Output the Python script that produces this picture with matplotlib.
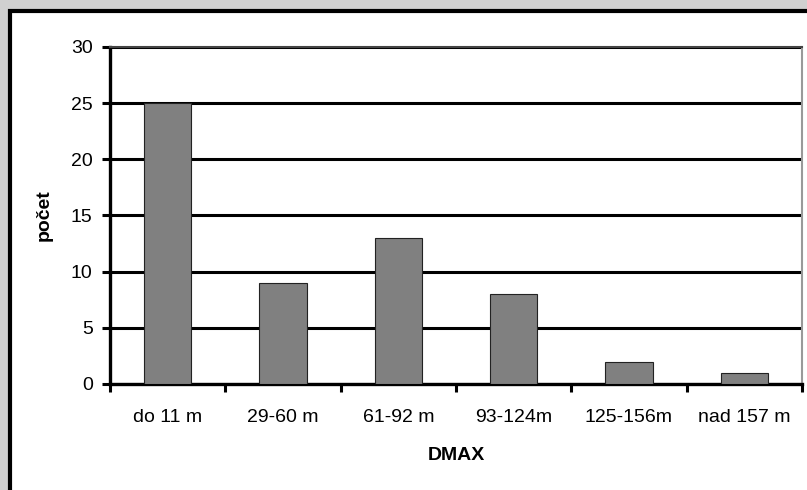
import matplotlib.pyplot as plt
from matplotlib.patches import Rectangle

plt.rcParams['font.family'] = ['Liberation Sans', 'DejaVu Sans']

categories = ['do 11 m', '29-60 m', '61-92 m', '93-124m', '125-156m', 'nad 157 m']
counts = [25, 9, 13, 8, 2, 1]
yticks = [0, 5, 10, 15, 20, 25, 30]

fig = plt.figure(figsize=(8.07, 4.90), dpi=100)
fig.patch.set_facecolor('#d0d0d0')

# white panel with heavy black frame
fig.add_artist(Rectangle((9.5 / 807, -0.1), 1.2, 1 - 11.5 / 490 + 0.1,
                         transform=fig.transFigure, facecolor='white',
                         edgecolor='black', linewidth=3, zorder=0))

ax = fig.add_axes([110 / 807, 1 - 384 / 490, 692 / 807, 337 / 490])
ax.set_facecolor('white')

x = list(range(len(categories)))
ax.bar(x, counts, width=0.41, color='#808080', edgecolor='#222222',
       linewidth=0.8, zorder=3)

ax.set_xlim(-0.5, len(categories) - 0.5)
ax.set_ylim(0, 30)

ax.set_yticks(yticks)
ax.set_yticklabels([str(v) for v in yticks], fontsize=14)
ax.yaxis.grid(True, color='black', linewidth=2.2, zorder=1)
ax.set_axisbelow(True)

# category labels centered, ticks on the boundaries
ax.set_xticks(x)
ax.set_xticklabels(categories, fontsize=14)
ax.tick_params(axis='x', which='major', length=0, pad=18)
ax.set_xticks([i - 0.5 for i in range(len(categories) + 1)], minor=True)
ax.tick_params(axis='x', which='minor', direction='out', length=5.5, width=2.2,
               color='black')
ax.tick_params(axis='y', direction='out', length=5.5, width=2.2, color='black',
               pad=7)

ax.spines['top'].set_color('#444444')
ax.spines['top'].set_linewidth(1.5)
ax.spines['right'].set_color('#999999')
ax.spines['right'].set_linewidth(1.5)
for side in ['left', 'bottom']:
    ax.spines[side].set_color('black')
    ax.spines[side].set_linewidth(2.4)

ax.set_ylabel('počet', fontsize=14, fontweight='bold', labelpad=13)
ax.set_xlabel('DMAX', fontsize=14, fontweight='bold', labelpad=15)

fig.savefig('out.png', dpi=100, facecolor=fig.get_facecolor())
